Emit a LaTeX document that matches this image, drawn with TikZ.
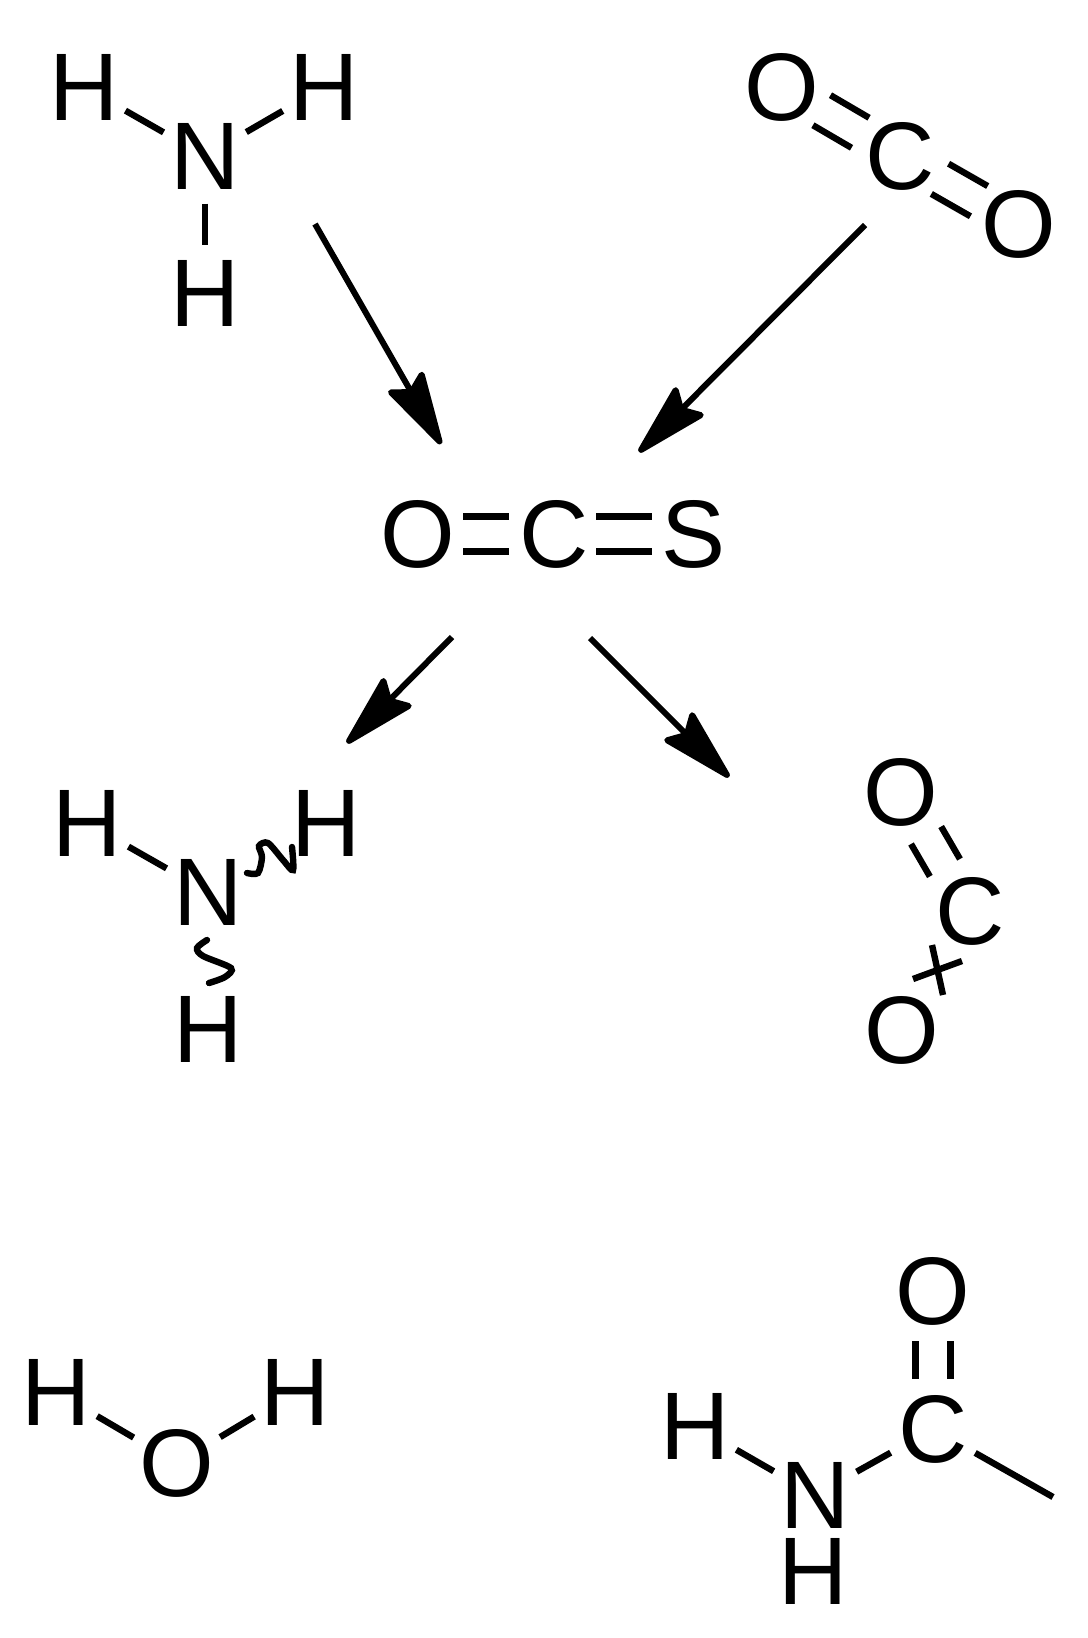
\documentclass[tikz,border=0pt]{standalone}
\usepackage{fontspec}
\setmainfont{Liberation Sans}
\usetikzlibrary{calc, arrows.meta}
\tikzset{
	x = .5pt,
	y = -.5pt,
	atom/.style={
		circle,
		minimum size=46pt,
		inner sep=0pt,
		outer sep=0pt,
		font=\fontsize{48pt}{48pt}\selectfont
	},
	bond/.style={
		line width=3.2pt
	},
	wavy bond/.style={
		line width=3.2pt,
		line cap=round
	},
	reaction/.style={
		line width=3pt,
		-{Stealth[length=42pt, width=22pt, inset=6pt, round]}
	}
}
\newcommand{\dbond}[3][23pt]{
	\draw[bond, shorten <=#1, shorten >=#1] ($(#2.center)!8.7pt!90:(#3.center)$) -- ($(#3.center)!8.7pt!-90:(#2.center)$);
	\draw[bond, shorten <=#1, shorten >=#1] ($(#2.center)!8.7pt!-90:(#3.center)$) -- ($(#3.center)!8.7pt!90:(#2.center)$);
}

\begin{document}
\begin{tikzpicture}
	\useasboundingbox (0,0) rectangle (1087,1638);

	% ammonia
	\node[atom] (h1) at (84,87) {H};
	\node[atom] (h2) at (324,87) {H};
	\node[atom] (n1) at (205,156) {N};
	\node[atom] (h3) at (205,293) {H};
	\draw[bond] (n1) -- (h1);
	\draw[bond] (n1) -- (h2);
	\draw[bond] (n1) -- (h3);

	% carbon dioxide
	\node[atom] (o1) at (782,87) {O};
	\node[atom] (c1) at (900,156) {C};
	\node[atom] (o2) at (1019,224) {O};
	\dbond{o1}{c1}
	\dbond{c1}{o2}

	% carbonyl sulfide
	\node[atom] (o3) at (418,534) {O};
	\node[atom] (c2) at (554,534) {C};
	\node[atom] (s1) at (694,534) {S};
	\dbond[22.5pt]{o3}{c2}
	\dbond[21pt]{c2}{s1}

	% reaction arrows
	\coordinate (a1) at (315,224);
	\coordinate (b1) at (441,444);
	\coordinate (a2) at (865,225);
	\coordinate (b2) at (639,452);
	\coordinate (a3) at (452,637);
	\coordinate (b3) at (347,743);
	\coordinate (a4) at (590,638);
	\coordinate (b4) at (729,777);
	\draw[reaction] (a1) -- (b1);
	\draw[reaction] (a2) -- (b2);
	\draw[reaction] (a3) -- (b3);
	\draw[reaction] (a4) -- (b4);

	% ammonia, wavy bonds
	\node[atom] (h4) at (87,823) {H};
	\node[atom] (h5) at (326,823) {H};
	\node[atom] (n2) at (208,892) {N};
	\node[atom] (h6) at (208,1029) {H};
	\draw[bond] (n2) -- (h4);
	\draw[wavy bond] plot[smooth, tension=.5] coordinates {(247,873) (258,873) (262,857) (259,846) (268,843) (283,860) (293,870) (292,847)};
	\draw[wavy bond] plot[smooth, tension=.5] coordinates {(207,940) (197,948) (203,956) (231,968) (225,977) (209,983)};

	% carbon dioxide, crossed bond
	\node[atom] (o4) at (901,792) {O};
	\node[atom] (c3) at (970,911) {C};
	\node[atom] (o5) at (902,1030) {O};
	\dbond[25pt]{o4}{c3}
	\coordinate (x1) at (913,979);
	\coordinate (x2) at (962,961);
	\coordinate (x3) at (932,945);
	\coordinate (x4) at (943,995);
	\draw[bond] (x1) -- (x2);
	\draw[bond] (x3) -- (x4);

	% water
	\node[atom] (h7) at (56,1392) {H};
	\node[atom] (h8) at (295,1392) {H};
	\node[atom] (o6) at (177,1463) {O};
	\draw[bond] (o6) -- (h7);
	\draw[bond] (o6) -- (h8);

	% amide
	\node[atom] (o7) at (933,1291) {O};
	\node[atom] (c4) at (933,1429) {C};
	\node[atom] (h9) at (695,1426) {H};
	\node[atom] (n3) at (815,1495) {N};
	\node[atom] (h10) at (813,1571) {H};
	\coordinate (m1) at (1053,1497);
	\dbond[25pt]{o7}{c4}
	\draw[bond] (n3) -- (c4);
	\draw[bond] (n3) -- (h9);
	\draw[bond] (c4) -- (m1);
\end{tikzpicture}
\end{document}
